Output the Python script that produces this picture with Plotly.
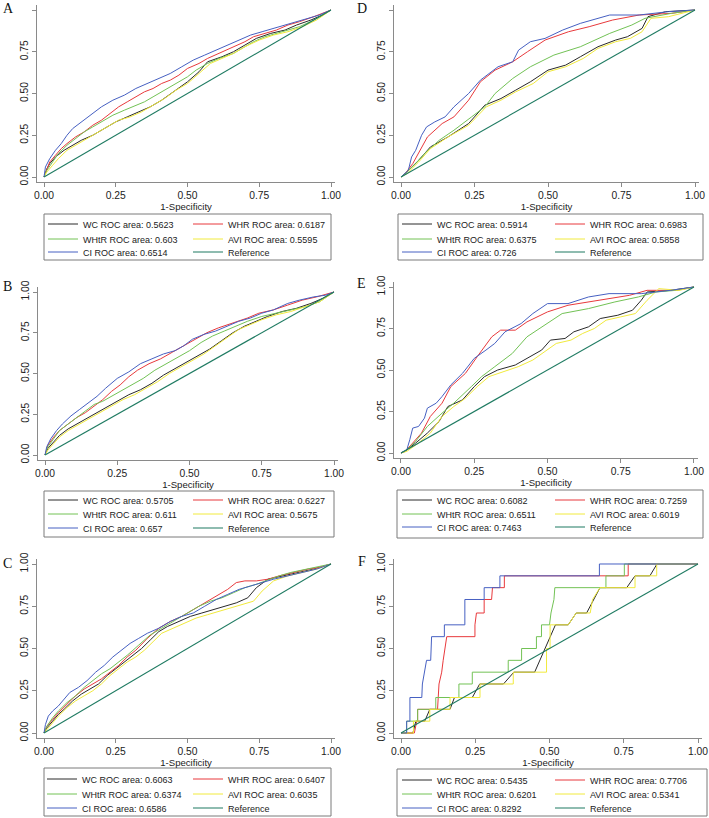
import plotly.graph_objects as go

W, H = 709, 818

# ---------------- data ----------------
SERIES = ["WC", "WHR", "WHtR", "AVI", "CI"]
PANEL_LABELS = ["A", "B", "C", "D", "E", "F"]

AUC = {
    "A": [0.5623, 0.6187, 0.603, 0.5595, 0.6514],
    "B": [0.5705, 0.6227, 0.611, 0.5675, 0.657],
    "C": [0.6063, 0.6407, 0.6374, 0.6035, 0.6586],
    "D": [0.5914, 0.6983, 0.6375, 0.5858, 0.726],
    "E": [0.6082, 0.7259, 0.6511, 0.6019, 0.7463],
    "F": [0.5435, 0.7706, 0.6201, 0.5341, 0.8292],
}

REF = [0, 1]

# panel A
A_WC_x = [0, .01, .02, .04, .07, .10, .13, .17, .21, .25, .29, .33, .37, .41, .45, .50, .54, .57, .62, .66, .70, .74, .79, .84, .88, .93, .97, 1]
A_WC_y = [0, .05, .08, .12, .16, .19, .22, .25, .29, .33, .36, .39, .42, .46, .51, .57, .63, .69, .72, .75, .79, .83, .86, .88, .91, .94, .97, 1]
A_WHR_x = [0, .01, .02, .04, .06, .08, .11, .14, .17, .20, .23, .26, .29, .32, .35, .38, .41, .44, .47, .50, .54, .57, .61, .66, .70, .73, .77, .81, .85, .89, .94, 1]
A_WHR_y = [0, .05, .09, .13, .17, .20, .24, .27, .31, .34, .38, .42, .45, .48, .51, .53, .56, .58, .61, .65, .68, .71, .74, .78, .81, .84, .86, .88, .91, .93, .96, 1]
A_WHtR_x = [0, .01, .03, .05, .08, .11, .14, .17, .20, .24, .28, .31, .35, .38, .42, .46, .50, .53, .57, .61, .66, .70, .73, .77, .81, .85, .89, .94, 1]
A_WHtR_y = [0, .04, .09, .14, .19, .23, .27, .30, .33, .37, .40, .42, .45, .48, .52, .56, .60, .64, .68, .71, .74, .78, .81, .84, .86, .88, .90, .94, 1]
A_AVI_x = [0, .01, .03, .05, .08, .11, .14, .18, .22, .26, .30, .34, .38, .42, .46, .50, .54, .58, .62, .66, .70, .75, .80, .85, .90, .95, 1]
A_AVI_y = [0, .03, .07, .11, .16, .19, .22, .26, .30, .34, .36, .39, .43, .47, .52, .56, .62, .68, .71, .74, .78, .82, .85, .87, .90, .94, 1]
A_CI_x = [0, .005, .02, .04, .06, .08, .10, .13, .16, .20, .24, .28, .32, .36, .40, .44, .48, .52, .56, .60, .64, .68, .72, .76, .80, .84, .88, .92, .96, 1]
A_CI_y = [0, .06, .11, .16, .20, .25, .29, .33, .37, .42, .46, .49, .53, .56, .59, .62, .66, .70, .73, .76, .79, .82, .85, .87, .89, .91, .93, .95, .97, 1]

# panel B
B_WC_x = [0, .01, .03, .05, .08, .11, .14, .17, .21, .25, .29, .33, .37, .41, .45, .49, .53, .57, .61, .65, .69, .73, .77, .82, .87, .92, .96, 1]
B_WC_y = [0, .04, .08, .12, .16, .19, .22, .25, .29, .33, .37, .40, .44, .49, .53, .57, .61, .65, .70, .75, .79, .82, .85, .88, .90, .93, .96, 1]
B_WHR_x = [0, .01, .03, .05, .08, .11, .14, .17, .20, .23, .26, .29, .32, .36, .40, .44, .48, .52, .56, .60, .65, .70, .74, .79, .84, .89, .94, 1]
B_WHR_y = [0, .06, .11, .15, .19, .23, .26, .30, .34, .39, .43, .48, .52, .56, .59, .63, .67, .71, .75, .78, .81, .84, .87, .89, .92, .95, .97, 1]
B_WHtR_x = [0, .01, .03, .05, .08, .11, .14, .17, .20, .23, .26, .30, .34, .38, .42, .46, .50, .54, .58, .62, .66, .70, .75, .80, .85, .90, .95, 1]
B_WHtR_y = [0, .05, .10, .15, .19, .23, .27, .31, .33, .36, .39, .43, .47, .52, .56, .60, .64, .69, .73, .76, .79, .82, .85, .87, .89, .91, .94, 1]
B_AVI_x = [0, .01, .03, .05, .08, .11, .15, .19, .23, .27, .31, .35, .39, .43, .47, .51, .55, .59, .63, .67, .71, .75, .80, .85, .90, .95, 1]
B_AVI_y = [0, .03, .07, .11, .15, .18, .22, .26, .30, .34, .37, .41, .45, .50, .54, .58, .62, .67, .72, .77, .80, .83, .86, .88, .91, .94, 1]
B_CI_x = [0, .006, .02, .04, .06, .09, .12, .15, .18, .21, .25, .29, .33, .37, .41, .45, .48, .51, .55, .59, .63, .67, .71, .75, .79, .84, .88, .93, .97, 1]
B_CI_y = [0, .05, .10, .15, .19, .24, .28, .32, .36, .41, .47, .51, .56, .59, .62, .64, .67, .71, .74, .76, .79, .82, .84, .87, .89, .93, .95, .97, .98, 1]

# panel C
C_WC_x = [0, .01, .03, .05, .07, .10, .13, .16, .19, .22, .25, .28, .31, .34, .37, .40, .43, .47, .51, .55, .59, .63, .67, .71, .74, .78, .83, .88, .94, 1]
C_WC_y = [0, .03, .07, .11, .14, .19, .23, .26, .29, .34, .38, .42, .46, .50, .55, .60, .63, .66, .69, .71, .73, .75, .77, .80, .86, .91, .93, .95, .97, 1]
C_WHR_x = [0, .01, .03, .05, .08, .11, .14, .17, .20, .23, .26, .29, .32, .36, .40, .44, .48, .52, .56, .60, .64, .67, .70, .74, .78, .82, .87, .92, .96, 1]
C_WHR_y = [0, .04, .08, .12, .17, .22, .26, .29, .32, .36, .40, .45, .49, .56, .62, .66, .69, .73, .77, .81, .85, .89, .90, .90, .91, .93, .95, .97, .98, 1]
C_WHtR_x = [0, .01, .03, .05, .08, .11, .14, .17, .20, .23, .26, .29, .33, .37, .41, .45, .50, .54, .58, .62, .66, .70, .74, .78, .82, .86, .90, .95, 1]
C_WHtR_y = [0, .04, .09, .13, .18, .22, .27, .31, .35, .38, .42, .46, .52, .58, .62, .66, .71, .75, .78, .80, .83, .86, .88, .905, .93, .95, .965, .98, 1]
C_AVI_x = [0, .01, .03, .05, .08, .11, .14, .17, .20, .23, .26, .29, .32, .35, .38, .41, .45, .49, .53, .57, .61, .65, .69, .73, .76, .80, .85, .90, .95, 1]
C_AVI_y = [0, .02, .06, .10, .15, .19, .22, .25, .29, .34, .38, .42, .45, .49, .54, .59, .62, .65, .68, .70, .72, .74, .76, .78, .84, .90, .93, .95, .97, 1]
C_CI_x = [0, .005, .015, .03, .05, .07, .09, .12, .15, .18, .21, .24, .27, .30, .33, .36, .40, .44, .48, .52, .56, .60, .64, .68, .72, .76, .80, .85, .90, .95, 1]
C_CI_y = [0, .05, .10, .13, .16, .20, .24, .27, .31, .36, .40, .45, .49, .53, .56, .59, .62, .66, .69, .71, .75, .79, .82, .85, .87, .89, .91, .93, .95, .97, 1]

# panel D
D_WC_x = [0, .014, .06, .10, .16, .23, .285, .34, .39, .44, .50, .56, .61, .67, .73, .77, .82, .84, .90, 1]
D_WC_y = [0, .02, .10, .18, .24, .32, .43, .47, .52, .57, .64, .67, .72, .78, .82, .84, .89, .96, .99, 1]
D_WHR_x = [0, .014, .04, .065, .09, .14, .18, .23, .27, .32, .38, .43, .49, .57, .64, .72, .81, .92, 1]
D_WHR_y = [0, .02, .08, .16, .24, .32, .36, .46, .57, .64, .69, .75, .82, .87, .90, .94, .97, .98, 1]
D_WHtR_x = [0, .014, .05, .08, .13, .18, .24, .285, .32, .38, .44, .52, .61, .71, .785, .83, .92, 1]
D_WHtR_y = [0, .02, .08, .14, .22, .28, .36, .42, .50, .59, .66, .73, .78, .86, .91, .95, .98, 1]
D_AVI_x = [0, .02, .06, .10, .16, .23, .29, .34, .39, .45, .50, .56, .62, .67, .73, .78, .82, .85, .91, .96, 1]
D_AVI_y = [0, .02, .09, .17, .24, .31, .42, .46, .51, .56, .63, .66, .71, .77, .81, .83, .87, .95, .96, .98, 1]
D_CI_x = [0, .025, .036, .05, .07, .087, .115, .15, .18, .23, .27, .33, .38, .40, .44, .49, .55, .61, .71, .81, .91, 1]
D_CI_y = [0, .04, .12, .16, .25, .30, .33, .36, .42, .50, .58, .66, .69, .76, .81, .83, .88, .92, .97, .97, .99, 1]

# panel E
E_WC_x = [0, .014, .05, .09, .13, .16, .21, .25, .285, .33, .39, .43, .48, .51, .56, .59, .64, .68, .74, .79, .82, .84, .92, 1]
E_WC_y = [0, .01, .06, .12, .19, .28, .32, .40, .46, .50, .53, .57, .62, .68, .69, .73, .76, .81, .83, .86, .92, .97, .98, 1]
E_WHR_x = [0, .014, .04, .07, .10, .14, .17, .22, .26, .31, .34, .39, .43, .50, .57, .64, .71, .78, .84, .94, 1]
E_WHR_y = [0, .01, .06, .12, .22, .30, .40, .48, .58, .70, .74, .74, .79, .85, .89, .91, .93, .95, .98, .98, 1]
E_WHtR_x = [0, .014, .05, .09, .14, .18, .24, .275, .32, .38, .43, .48, .55, .64, .73, .81, .87, .94, 1]
E_WHtR_y = [0, .01, .07, .16, .24, .30, .40, .46, .52, .60, .70, .76, .84, .87, .91, .94, .97, .98, 1]
E_AVI_x = [0, .02, .06, .10, .14, .18, .22, .26, .30, .35, .40, .45, .50, .53, .58, .62, .66, .70, .75, .80, .84, .88, .95, 1]
E_AVI_y = [0, .01, .06, .12, .22, .28, .33, .40, .46, .49, .52, .56, .62, .66, .68, .72, .75, .80, .82, .84, .92, .99, .98, 1]
E_CI_x = [0, .02, .03, .04, .06, .08, .09, .12, .14, .17, .21, .25, .29, .32, .355, .41, .45, .50, .57, .64, .71, .82, .92, 1]
E_CI_y = [0, .02, .08, .15, .16, .21, .27, .30, .34, .41, .48, .57, .62, .66, .73, .78, .84, .90, .90, .94, .96, .96, .98, 1]

# panel F (few cases -> stepped curves)
F_WC_x = [0, .04, .05, .08, .097, .165, .18, .24, .265, .345, .38, .45, .52, .563, .59, .625, .67, .76, .788, .838, .862, 1]
F_WC_y = [0, 0, .07, .07, .14, .14, .21, .21, .29, .29, .36, .36, .64, .64, .71, .71, .86, .86, .93, .93, 1, 1]
F_WHR_x = [0, .045, .053, .056, .056, .123, .128, .137, .142, .148, .154, .249, .249, .254, .28, .28, .305, .308, .348, .348, .765, .765, 1]
F_WHR_y = [0, 0, .07, .07, .14, .14, .29, .36, .43, .50, .57, .57, .64, .71, .71, .79, .79, .86, .86, .93, .93, 1, 1]
F_WHtR_x = [0, .019, .019, .056, .056, .117, .117, .195, .195, .24, .24, .361, .361, .406, .406, .456, .456, .473, .473, .50, .505, .515, .518, .69, .69, .752, .752, 1]
F_WHtR_y = [0, 0, .07, .07, .14, .14, .21, .21, .29, .29, .36, .36, .43, .43, .50, .50, .57, .57, .64, .64, .71, .79, .86, .86, .93, .93, 1, 1]
F_AVI_x = [0, .042, .042, .097, .097, .165, .165, .266, .266, .378, .378, .49, .49, .502, .502, .563, .59, .637, .645, .67, .788, .788, .861, .861, 1]
F_AVI_y = [0, 0, .07, .07, .14, .14, .21, .21, .29, .29, .36, .36, .50, .50, .64, .64, .71, .71, .79, .86, .86, .93, .93, 1, 1]
F_CI_x = [0, .019, .019, .03, .03, .07, .072, .078, .086, .10, .103, .146, .146, .215, .215, .28, .28, .333, .333, .668, .668, 1]
F_CI_y = [0, 0, .07, .07, .21, .21, .29, .36, .43, .43, .57, .57, .64, .64, .79, .79, .86, .86, .93, .93, 1, 1]

CURVES = {
    "A": [(A_WC_x, A_WC_y), (A_WHR_x, A_WHR_y), (A_WHtR_x, A_WHtR_y), (A_AVI_x, A_AVI_y), (A_CI_x, A_CI_y)],
    "B": [(B_WC_x, B_WC_y), (B_WHR_x, B_WHR_y), (B_WHtR_x, B_WHtR_y), (B_AVI_x, B_AVI_y), (B_CI_x, B_CI_y)],
    "C": [(C_WC_x, C_WC_y), (C_WHR_x, C_WHR_y), (C_WHtR_x, C_WHtR_y), (C_AVI_x, C_AVI_y), (C_CI_x, C_CI_y)],
    "D": [(D_WC_x, D_WC_y), (D_WHR_x, D_WHR_y), (D_WHtR_x, D_WHtR_y), (D_AVI_x, D_AVI_y), (D_CI_x, D_CI_y)],
    "E": [(E_WC_x, E_WC_y), (E_WHR_x, E_WHR_y), (E_WHtR_x, E_WHtR_y), (E_AVI_x, E_AVI_y), (E_CI_x, E_CI_y)],
    "F": [(F_WC_x, F_WC_y), (F_WHR_x, F_WHR_y), (F_WHtR_x, F_WHtR_y), (F_AVI_x, F_AVI_y), (F_CI_x, F_CI_y)],
}

TICKS = [0, 0.25, 0.5, 0.75, 1]

# ---------------- styling / layout ----------------
COLORS = ["#2a2a2a", "#e8393c", "#72c255", "#f1ea3c", "#4660c2"]
REF_COLOR = "#1f7b62"
AXIS_COLOR = "#8a8a8a"
FONT = "Liberation Sans, Arial, sans-serif"

# pixel geometry of each panel: data 0/1 on x, data 0/1 on y, legend box, legend rows,
# legend column line starts, panel letter centre
GEOM = {
    "A": dict(px=(44, 331), py=(177, 10), box=(44, 214, 331, 260), rows=(224, 239, 252), cols=(48, 193), lab=(8, 8)),
    "B": dict(px=(45, 334), py=(455, 292), box=(44, 491, 334, 537), rows=(500, 514, 528), cols=(48, 193), lab=(7, 287)),
    "C": dict(px=(44, 331), py=(733, 564), box=(44, 768, 331, 816), rows=(779, 794, 808), cols=(47, 193), lab=(7, 563)),
    "D": dict(px=(401, 695), py=(177, 10), box=(398, 214, 703, 260), rows=(224, 239, 252), cols=(402, 555), lab=(362, 8)),
    "E": dict(px=(401, 694), py=(453, 287), box=(397, 490, 703, 538), rows=(500, 514, 527), cols=(402, 555), lab=(361, 284)),
    "F": dict(px=(401, 698), py=(733, 564), box=(397, 769, 707, 816), rows=(780, 794, 808), cols=(402, 555), lab=(362, 561)),
}

XR = [-0.024, 1.014]
YR = [-0.03, 1.03]


def fx(p):
    return p / W


def fy(p):
    return 1 - p / H


fig = go.Figure()
layout = dict(
    width=W, height=H,
    margin=dict(l=0, r=0, t=0, b=0, autoexpand=False),
    paper_bgcolor="white", plot_bgcolor="white",
    font=dict(family=FONT, color="#222"),
    shapes=[], annotations=[],
)

# legend slot per series: (column, row)
SLOTS = [(0, 0), (1, 0), (0, 1), (1, 1), (0, 2), (1, 2)]

leg_n = 0
for k, lab in enumerate(PANEL_LABELS):
    g = GEOM[lab]
    sfx = "" if k == 0 else str(k + 1)
    x0, x1 = g["px"]
    y0, y1 = g["py"]
    sx, sy = x1 - x0, y0 - y1

    names = ["%s ROC area: %s" % (s, a) for s, a in zip(SERIES, AUC[lab])] + ["Reference"]
    data = CURVES[lab] + [(REF, REF)]
    colors = COLORS + [REF_COLOR]

    for j, ((xs, ys), name, col) in enumerate(zip(data, names, colors)):
        leg_n += 1
        lid = "legend" if leg_n == 1 else "legend%d" % leg_n
        fig.add_trace(go.Scatter(
            x=xs, y=ys, mode="lines", name=name,
            line=dict(color=col, width=1.1 if j == 5 else 1),
            xaxis="x" + sfx, yaxis="y" + sfx,
            legend=lid, showlegend=True, hoverinfo="skip",
        ))
        c, r = SLOTS[j]
        layout[lid] = dict(
            x=fx(g["cols"][c] - 5), y=fy(g["rows"][r]),
            xanchor="left", yanchor="middle",
            bgcolor="rgba(0,0,0,0)", borderwidth=0,
            font=dict(size=9, family=FONT, color="#222"),
        )

    layout["xaxis" + sfx] = dict(
        domain=[fx(x0 + XR[0] * sx), fx(x0 + XR[1] * sx)],
        range=XR, anchor="y" + sfx, automargin=False,
        tickvals=TICKS, tickformat=".2f",
        showline=True, linecolor=AXIS_COLOR, linewidth=1,
        ticks="outside", ticklen=4, tickcolor=AXIS_COLOR,
        showgrid=False, zeroline=False,
        tickfont=dict(size=10.3, family=FONT, color="#222"),
        title=dict(text="1-Specificity", font=dict(size=9.6, family=FONT, color="#222"), standoff=1),
    )
    layout["yaxis" + sfx] = dict(
        domain=[fy(y0 + 0.03 * sy), fy(y1 - 0.03 * sy)],
        range=YR, anchor="x" + sfx, automargin=False,
        tickvals=TICKS, tickformat=".2f", tickangle=-90,
        showline=True, linecolor=AXIS_COLOR, linewidth=1,
        ticks="outside", ticklen=4, tickcolor=AXIS_COLOR,
        showgrid=False, zeroline=False,
        tickfont=dict(size=10.3, family=FONT, color="#222"),
    )

    bx0, by0, bx1, by1 = g["box"]
    layout["shapes"].append(dict(
        type="rect", xref="paper", yref="paper",
        x0=fx(bx0), x1=fx(bx1), y0=fy(by1), y1=fy(by0),
        line=dict(color="#7a7a7a", width=1), fillcolor="rgba(0,0,0,0)",
    ))
    lx, ly = g["lab"]
    layout["annotations"].append(dict(
        text=lab, x=fx(lx), y=fy(ly), xref="paper", yref="paper",
        xanchor="center", yanchor="middle", showarrow=False,
        font=dict(family="Liberation Serif, Times New Roman, serif", size=14, color="#111"),
    ))

fig.update_layout(**layout)
# the page's default body margin would push the 709x818 figure off the window
fig.write_html(
    "out.html",
    config={"displayModeBar": False},
    post_script="document.body.style.margin='0';",
)
